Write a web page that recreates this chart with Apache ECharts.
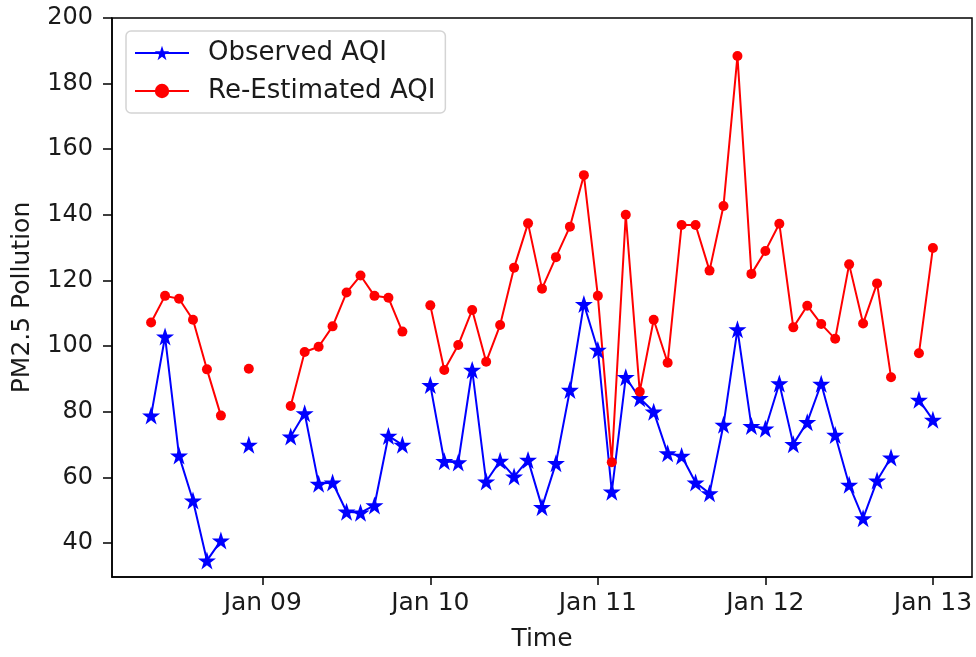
<!DOCTYPE html>
<html>
<head>
<meta charset="utf-8">
<script src="https://cdn.jsdelivr.net/npm/echarts@6/dist/echarts.min.js"></script>
<style>
  html, body { margin: 0; padding: 0; background: #fff; }
  #chart { width: 976px; height: 657px; }
</style>
</head>
<body>
<div id="chart"></div>
<script>
// sample times, every 2 hours
var times = [
  '2019-01-08T08:00','2019-01-08T10:00','2019-01-08T12:00','2019-01-08T14:00','2019-01-08T16:00','2019-01-08T18:00',
  '2019-01-08T20:00','2019-01-08T22:00',
  '2019-01-09T00:00','2019-01-09T02:00','2019-01-09T04:00','2019-01-09T06:00','2019-01-09T08:00','2019-01-09T10:00',
  '2019-01-09T12:00','2019-01-09T14:00','2019-01-09T16:00','2019-01-09T18:00','2019-01-09T20:00','2019-01-09T22:00',
  '2019-01-10T00:00','2019-01-10T02:00','2019-01-10T04:00','2019-01-10T06:00','2019-01-10T08:00','2019-01-10T10:00',
  '2019-01-10T12:00','2019-01-10T14:00','2019-01-10T16:00','2019-01-10T18:00','2019-01-10T20:00','2019-01-10T22:00',
  '2019-01-11T00:00','2019-01-11T02:00','2019-01-11T04:00','2019-01-11T06:00','2019-01-11T08:00','2019-01-11T10:00',
  '2019-01-11T12:00','2019-01-11T14:00','2019-01-11T16:00','2019-01-11T18:00','2019-01-11T20:00','2019-01-11T22:00',
  '2019-01-12T00:00','2019-01-12T02:00','2019-01-12T04:00','2019-01-12T06:00','2019-01-12T08:00','2019-01-12T10:00',
  '2019-01-12T12:00','2019-01-12T14:00','2019-01-12T16:00','2019-01-12T18:00','2019-01-12T20:00','2019-01-12T22:00',
  '2019-01-13T00:00'
];
var observed = [
  78.8, 102.9, 66.6, 52.9, 34.6, 40.7, null, 69.9,
  null, null, 72.4, 79.5, 58.0, 58.4, 49.5, 49.2, 51.4, 72.6, 69.9, null,
  88.1, 64.9, 64.5, 92.7, 58.7, 65.0, 60.2, 65.3, 50.9, 64.3, 86.6, 112.8,
  98.8, 55.6, 90.5, 84.1, 80.0, 67.3, 66.5, 58.4, 55.1, 76.0, 105.1, 75.6,
  74.8, 88.6, 70.1, 76.8, 88.5, 72.9, 57.7, 47.5, 59.0, 66.0, null, 83.6,
  77.5
];
var reEstimated = [
  107.2, 115.3, 114.4, 108.0, 92.9, 78.8, null, 93.1,
  null, null, 81.7, 98.2, 99.8, 106.0, 116.3, 121.5, 115.3, 114.7, 104.4, null,
  112.4, 92.7, 100.3, 111.0, 95.2, 106.4, 123.9, 137.4, 117.5, 127.1, 136.4, 152.1,
  115.3, 64.6, 140.0, 86.1, 108.0, 94.9, 136.9, 136.9, 123.0, 142.7, 188.4, 122.0,
  129.0, 137.3, 105.7, 112.3, 106.7, 102.2, 124.9, 106.9, 119.1, 90.5, null, 97.8,
  129.9
];
var xTicks = ['2019-01-09T00:00','2019-01-10T00:00','2019-01-11T00:00','2019-01-12T00:00','2019-01-13T00:00'];
var yTicks = [40, 60, 80, 100, 120, 140, 160, 180, 200];
var months = ['Jan','Feb','Mar','Apr','May','Jun','Jul','Aug','Sep','Oct','Nov','Dec'];

function ts(s) { return new Date(s).getTime(); }
function pairs(vals) {
  var out = [];
  for (var i = 0; i < times.length; i++) {
    out.push([ts(times[i]), vals[i]]);
  }
  return out;
}

var star = 'path://M50,0 L61.8,34.5 L97.6,34.5 L68.5,55.9 L79.4,90.5 L50,69.1 L20.6,90.5 L31.5,55.9 L2.4,34.5 L38.2,34.5 Z';
var font = 'DejaVu Sans';

var chart = echarts.init(document.getElementById('chart'));
var option = {
  backgroundColor: '#fff',
  animation: false,
  textStyle: { fontFamily: font, color: '#000' },
  grid: {
    left: 112, right: 4, top: 18, bottom: 80,
    show: true, borderColor: '#000', borderWidth: 1.5
  },
  legend: {
    left: 126, top: 31,
    orient: 'vertical',
    itemWidth: 54, itemHeight: 18, itemGap: 12,
    padding: [9, 10, 9, 8],
    borderColor: '#d4d4d4', borderWidth: 1.5, borderRadius: 5,
    textStyle: { fontFamily: font, fontSize: 26, color: '#1a1a1a', padding: [0, 0, 0, 14] },
    data: ['Observed AQI', 'Re-Estimated AQI']
  },
  xAxis: {
    type: 'value',
    min: ts('2019-01-08T02:24'),
    max: ts('2019-01-13T05:36'),
    name: 'Time',
    nameLocation: 'middle',
    nameGap: 50,
    nameTextStyle: { fontFamily: font, fontSize: 25, color: '#1a1a1a' },
    axisLine: { show: true, lineStyle: { color: '#000', width: 1.5 } },
    axisTick: { show: true, inside: false, length: 8, lineStyle: { color: '#000', width: 1.5 },
      customValues: xTicks.map(ts) },
    axisLabel: {
      fontFamily: font, fontSize: 25, color: '#1a1a1a', margin: 14,
      customValues: xTicks.map(ts),
      formatter: function (v) {
        var d = new Date(v);
        var dd = d.getDate();
        return months[d.getMonth()] + ' ' + (dd < 10 ? '0' + dd : dd);
      }
    },
    splitLine: { show: false }
  },
  yAxis: {
    type: 'value',
    min: 29.6,
    max: 200,
    name: 'PM2.5 Pollution',
    nameLocation: 'middle',
    nameRotate: 90,
    nameGap: 77,
    nameTextStyle: { fontFamily: font, fontSize: 25, color: '#1a1a1a' },
    axisLine: { show: true, lineStyle: { color: '#000', width: 1.5 } },
    axisTick: { show: true, inside: false, length: 9, lineStyle: { color: '#000', width: 1.5 },
      customValues: yTicks },
    axisLabel: { fontFamily: font, fontSize: 24, color: '#1a1a1a', margin: 19, customValues: yTicks },
    splitLine: { show: false }
  },
  series: [
    {
      name: 'Observed AQI',
      type: 'line',
      data: pairs(observed),
      symbol: star,
      symbolSize: 18,
      showSymbol: true,
      showAllSymbol: true,
      connectNulls: false,
      itemStyle: { color: '#0000ff' },
      lineStyle: { color: '#0000ff', width: 2 }
    },
    {
      name: 'Re-Estimated AQI',
      type: 'line',
      data: pairs(reEstimated),
      symbol: 'circle',
      symbolSize: 10,
      showSymbol: true,
      showAllSymbol: true,
      connectNulls: false,
      itemStyle: { color: '#ff0000' },
      lineStyle: { color: '#ff0000', width: 2 }
    }
  ]
};
chart.setOption(option);
</script>
</body>
</html>
